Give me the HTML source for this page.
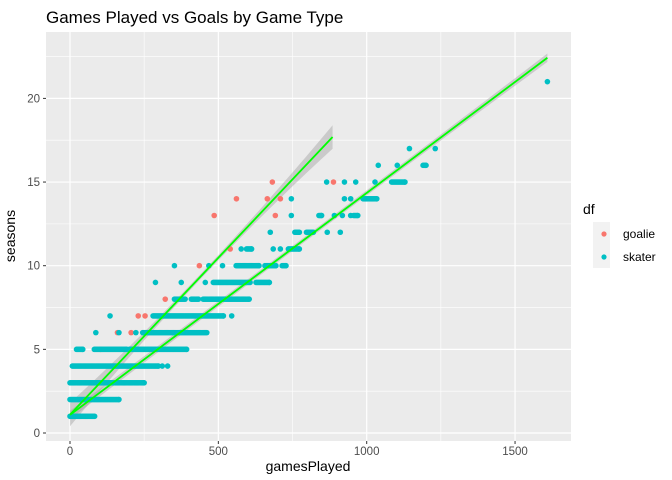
<!DOCTYPE html>
<html><head><meta charset="utf-8"><style>
body{margin:0;background:#fff;}
svg{display:block;font-family:"Liberation Sans",Arial,sans-serif;}
</style></head><body>
<svg id="chart" width="672" height="480" viewBox="0 0 672 480">
<rect width="672" height="480" fill="#fff"/>
<text x="46" y="23" font-size="17" fill="#000">Games Played vs Goals by Game Type</text>
<rect x="46" y="32" width="525" height="409" fill="#ebebeb"/>
<g id="grid"></g>
<g id="bands"></g>
<g id="pts"></g>
<g id="lines"></g>
<g id="axes"></g>
<text x="308" y="471" font-size="14" text-anchor="middle">gamesPlayed</text>
<text transform="translate(15,236) rotate(-90)" font-size="14" text-anchor="middle">seasons</text>
<g>
<text x="583" y="214" font-size="14">df</text>
<rect x="593" y="222" width="17" height="46" fill="#f2f2f2"/>
<circle cx="604" cy="234" r="2.6" fill="#F8766D"/>
<circle cx="604" cy="257" r="2.6" fill="#00BFC4"/>
<text x="623" y="238" font-size="12">goalie</text>
<text x="623" y="261" font-size="12">skater</text>
</g>
</svg>
<script>
// skater row segments: seasons, start gp, end gp
const skSeasons=[1,2,3,4,4,4,5,5,5,6,6,6,6,7,7,7,8,8,8,9,9,9,9,9,10,10,10,10,10,10,11,11,11,11,11,12,12,12,12,12,13,13,13,13,13,13,14,14,14,14,15,15,15,15,15,16,16,16,17,17,21];
const skStart=[0,0,0,8,311,329,22,82,200,87,165,222,245,135,280,545,352,409,449,288,375,456,483,627,352,468,514,560,657,715,577,595,685,709,736,675,758,797,867,911,746,839,891,918,946,956,746,925,946,988,865,925,963,1028,1084,1039,1103,1190,1144,1231,1609];
const skEnd=[83,165,250,298,311,329,43,191,393,87,165,222,461,135,517,545,388,433,604,288,375,456,607,672,352,468,514,637,694,728,577,612,685,709,773,675,773,820,867,911,746,848,891,918,946,970,746,925,946,1034,865,925,963,1028,1129,1039,1103,1200,1144,1231,1609];
const glSeasons=[5,6,6,7,7,8,10,11,13,13,14,14,14,15,15];
const glGames=[103,160,206,230,253,321,436,540,486,692,561,665,709,682,888];
// linear fits
const fitGroup=['goalie','skater'];
const fitIntercept=[1.1,1.08];
const fitSlope=[0.01875,0.01327];
const fitXmin=[0,0];
const fitXmax=[885,1609];
const fitSe=[0.7,0.25];
const xTicks=[0,500,1000,1500];
const yTicks=[0,5,10,15,20];

const NS='http://www.w3.org/2000/svg';
const X=v=>70+v*0.2967;
const Y=v=>433-v*16.73;
function mk(tag,attrs,parent){const e=document.createElementNS(NS,tag);for(const k in attrs)e.setAttribute(k,attrs[k]);parent.appendChild(e);return e;}
const grid=document.getElementById('grid'),axes=document.getElementById('axes'),pts=document.getElementById('pts'),bands=document.getElementById('bands'),lines=document.getElementById('lines');
for(let i=0;i<xTicks.length;i++){const m=xTicks[i]+250;if(X(m)<571){const l=mk('line',{x1:X(m),x2:X(m),y1:32,y2:441,stroke:'#fff','stroke-width':0.6},grid);

}}
for(let i=0;i<yTicks.length;i++){const m=yTicks[i]+2.5;if(Y(m)>32){const l=mk('line',{x1:46,x2:571,y1:Y(m),y2:Y(m),stroke:'#fff','stroke-width':0.6},grid);

}}
xTicks.forEach(t=>{const l=mk('line',{x1:X(t),x2:X(t),y1:32,y2:441,stroke:'#fff','stroke-width':1.2},grid);


const tk=mk('line',{x1:X(t),x2:X(t),y1:441,y2:444,stroke:'#333','stroke-width':1},axes);


const tx=mk('text',{x:X(t),y:455,'font-size':11.5,'text-anchor':'middle',fill:'#4d4d4d'},axes);tx.textContent=t;

});
yTicks.forEach(t=>{const l=mk('line',{x1:46,x2:571,y1:Y(t),y2:Y(t),stroke:'#fff','stroke-width':1.2},grid);


const tk=mk('line',{x1:43,x2:46,y1:Y(t),y2:Y(t),stroke:'#333','stroke-width':1},axes);


const tx=mk('text',{x:40,y:Y(t)+4,'font-size':11.5,'text-anchor':'end',fill:'#4d4d4d'},axes);tx.textContent=t;

});
glSeasons.forEach((s,i)=>{const c=mk('circle',{cx:X(glGames[i]),cy:Y(s),r:2.8,fill:'#F8766D'},pts);

});
skSeasons.forEach((s,i)=>{for(let g=skStart[i];g<=skEnd[i];g+=4){const c=mk('circle',{cx:X(g),cy:Y(s),r:2.8,fill:'#00BFC4'},pts);

}
if((skEnd[i]-skStart[i])%4){const c=mk('circle',{cx:X(skEnd[i]),cy:Y(s),r:2.8,fill:'#00BFC4'},pts);

}});
fitGroup.forEach((g,i)=>{const a=fitIntercept[i],b=fitSlope[i],x0=fitXmin[i],x1=fitXmax[i],se=fitSe[i],xm=(x0+x1)/2;
const up=[],dn=[];for(let k=0;k<=20;k++){const x=x0+(x1-x0)*k/20;const w=0.15+(se-0.15)*Math.pow((x-xm)/(x1-xm),2);const y=a+b*x;up.push(X(x)+','+Y(y+w));dn.unshift(X(x)+','+Y(y-w));}
const p=mk('polygon',{points:up.concat(dn).join(' '),fill:'#999','fill-opacity':0.4},bands);


const l=mk('line',{x1:X(x0),y1:Y(a+b*x0),x2:X(x1),y2:Y(a+b*x1),stroke:'#00ff00','stroke-width':1.8},lines);

});
</script>
</body></html>
